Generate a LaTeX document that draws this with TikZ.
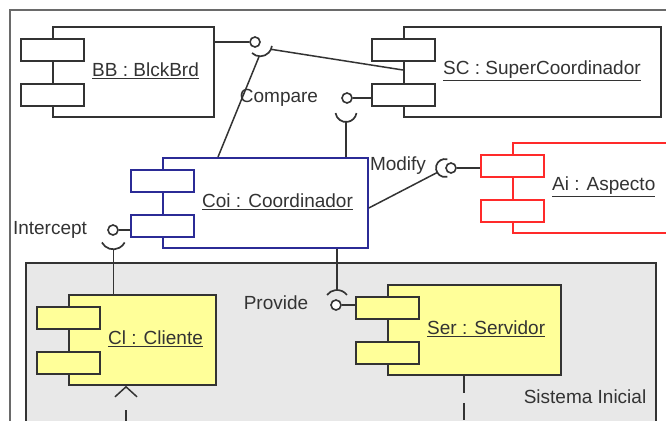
\documentclass[tikz,border=0pt]{standalone}
\usepackage{fontspec}
\setmainfont{Liberation Sans}
\usetikzlibrary{calc,arrows.meta}

\definecolor{inkgray}{HTML}{333333}
\definecolor{framegray}{HTML}{6A6A6A}
\definecolor{sysfill}{HTML}{E8E8E8}
\definecolor{coiblue}{HTML}{2B2B96}
\definecolor{aired}{HTML}{FF2A2A}
\definecolor{compyellow}{HTML}{FFFF99}

\tikzset{
  compbody/.style={rectangle, inner sep=0pt, line width=1.8bp},
  compport/.style={rectangle, inner sep=0pt, line width=1.8bp,
    minimum width=63bp, minimum height=22bp},
  complabel/.style={inner sep=0pt, text=inkgray, anchor=west},
  ball/.style={circle, draw=inkgray, fill=white, line width=1.6bp,
    inner sep=0pt, minimum size=10bp},
  wire/.style={draw=inkgray, line width=1.5bp},
  socket/.style={draw=inkgray, line width=1.7bp},
  iflabel/.style={inner sep=0pt, text=inkgray},
}

% component: #1 name, #2 left, #3 top, #4 width, #5 line colour, #6 fill, #7 label
\newcommand{\compo}[7]{%
  \node[compbody, draw=#5, fill=#6, minimum width=#4bp, minimum height=90bp,
        anchor=north west] (#1) at (#2,-#3) {};
  \node[compport, draw=#5, fill=#6, anchor=north west] (#1p1)
        at ($(#1.north west)+(-32,-12)$) {};
  \node[compport, draw=#5, fill=#6, anchor=north west] (#1p2)
        at ($(#1.north west)+(-32,-57)$) {};
  \node[complabel] (#1lbl) at ($(#1.west)+(40,1)$) {\underline{#7}};
}

\begin{document}
\begin{tikzpicture}[x=1bp,y=1bp,font=\fontsize{19bp}{22bp}\selectfont]
\useasboundingbox (0,0) rectangle (666,-420);
\clip (0,0) rectangle (666,-420);
\fill[white] (0,0) rectangle (666,-420);

% outer frame and the initial system package
\draw[framegray, line width=2.2bp] (10,-10) rectangle (720,-480);
\draw[fill=sysfill, draw=inkgray, line width=1.8bp] (26,-263) rectangle (656,-480);
\node[iflabel] (syslbl) at (585,-397) {Sistema Inicial};

% components
\compo{bb}{52}{26}{161}{inkgray}{white}{BB : BlckBrd}
\compo{sc}{403}{26}{257}{inkgray}{white}{SC : SuperCoordinador}
\compo{coi}{162}{157}{205}{coiblue}{white}{Coi : Coordinador}
\compo{ai}{512}{142}{200}{aired}{white}{Ai : Aspecto}
\compo{cl}{68}{294}{147}{inkgray}{compyellow}{Cl : Cliente}
\compo{ser}{387}{284}{173}{inkgray}{compyellow}{Ser : Servidor}

% Compare: BB provides, SC and Coi require
\node[ball] (b1) at (255,-42) {};
\coordinate (s1) at (260.2,-44.5);
\draw[wire] (b1.west) -- (b1.west -| bb.east);
\draw[socket] ([shift={(226:11.8)}]s1) arc (226:353:11.8);
\coordinate (s1sc) at ([shift={(-24:11.8)}]s1);
\coordinate (s1coi) at ([shift={(265:11.8)}]s1);
\coordinate (scin) at (sc.west |- 0,-70);
\coordinate (coitop) at (218,-157);
\draw[wire] (s1sc) -- (scin);
\draw[wire] (s1coi) -- (coitop);
\node[iflabel] (cmplbl) at (279,-98) {Compare};

% SC provides, Coi requires
\node[ball] (b2) at (347,-98) {};
\draw[wire] (b2.east) -- (b2.east -| scp2.west);
\coordinate (s2) at (346,-111.4);
\draw[socket] ([shift={(189:10.6)}]s2) arc (189:351:10.6);
\draw[wire] ([shift={(270:10.6)}]s2) -- (s2 |- coi.north);

% Intercept: Coi provides, Cl requires
\node[iflabel] (intlbl) at (50,-230) {Intercept};
\node[ball] (b3) at (113,-230) {};
\draw[wire] (b3.east) -- (b3.east -| coip2.west);
\coordinate (s3) at (113.3,-236.4);
\draw[socket] ([shift={(208:12.9)}]s3) arc (208:332:12.9);
\draw[wire] ([shift={(270:12.9)}]s3) -- (s3 |- cl.north);

% Modify: Ai provides, Coi requires
\node[iflabel] (modlbl) at (398,-166) {Modify};
\node[ball] (b4) at (451,-168) {};
\draw[wire] (b4.east) -- (b4.east -| aip1.west);
\coordinate (s4) at (445,-168);
\draw[socket] ([shift={(75:9)}]s4) arc (75:285:9);
\coordinate (coiout) at (coi.east |- 0,-208);
\draw[wire] (coiout) -- ([shift={(210:9)}]s4);

% Provide: Ser provides, Coi requires
\node[iflabel] (provlbl) at (276,-303) {Provide};
\node[ball] (b5) at (336,-305) {};
\draw[wire] (b5.east) -- (b5.east -| serp1.west);
\coordinate (s5) at (337,-302.5);
\draw[socket] ([shift={(37:12.5)}]s5) arc (37:143:12.5);
\draw[wire] ([shift={(90:12.5)}]s5) -- (s5 |- coi.south);

% dependencies leaving the picture below
\coordinate (serdown) at (464,-440);
\draw[wire, dash pattern=on 17bp off 10bp] (ser.south -| serdown) -- (serdown);
\coordinate (cldown) at (126,-425);
\draw[wire, dash pattern=on 15bp off 25bp,
      -{Straight Barb[length=10bp,width=22bp,line width=1.5bp]}]
  (cldown) -- (cldown |- cl.south);
\end{tikzpicture}
\end{document}
